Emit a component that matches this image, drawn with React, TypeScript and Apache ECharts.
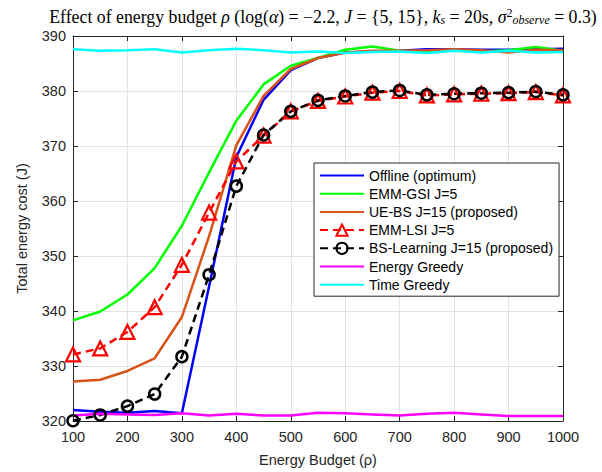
import React, { useEffect, useRef } from "react";
import * as echarts from "echarts";

const budgets = [100, 150, 200, 250, 300, 350, 400, 450, 500, 550, 600, 650, 700, 750, 800, 850, 900, 950, 1000];

const offline = [322.0, 321.7, 321.5, 321.8, 321.4, 344.5, 368.0, 378.4, 383.8, 386.0, 387.0, 387.2, 387.3, 387.6, 387.6, 387.5, 387.5, 387.6, 387.7];
const emmGsi = [338.3, 339.9, 343.0, 347.8, 355.5, 365.2, 374.6, 381.2, 384.6, 386.0, 387.5, 388.1, 387.3, 387.0, 387.5, 387.2, 387.4, 388.0, 387.3];
const ueBs = [327.2, 327.5, 329.1, 331.4, 338.9, 353.6, 370.1, 379.1, 384.0, 386.0, 387.0, 387.3, 387.3, 387.4, 387.6, 387.4, 387.0, 387.5, 387.4];
const emmLsi = [332.1, 333.2, 336.2, 340.7, 348.4, 357.9, 367.2, 371.9, 376.3, 378.2, 379.0, 379.7, 380.0, 379.2, 379.4, 379.5, 379.6, 379.8, 379.2];
const bsLearning = [320.05, 321.1, 322.7, 324.9, 331.7, 346.6, 362.7, 372.0, 376.3, 378.3, 379.1, 379.8, 380.1, 379.3, 379.5, 379.6, 379.7, 379.9, 379.3];
const energyGreedy = [321.0, 321.3, 321.2, 321.1, 321.4, 321.0, 321.3, 321.0, 321.0, 321.5, 321.4, 321.2, 321.0, 321.3, 321.5, 321.2, 320.9, 320.9, 320.9];
const timeGreedy = [387.6, 387.3, 387.4, 387.6, 387.0, 387.4, 387.7, 387.4, 387.0, 387.2, 386.9, 387.1, 387.2, 386.9, 387.3, 387.0, 387.3, 387.0, 387.1];

const seriesNames = [
  "Offline (optimum)",
  "EMM-GSI J=5",
  "UE-BS J=15 (proposed)",
  "EMM-LSI J=5",
  "BS-Learning J=15 (proposed)",
  "Energy Greedy",
  "Time Greedy",
];
const markerSeries = [seriesNames[3], seriesNames[4]];

const xTicks = { min: 100, max: 1000, interval: 100 };
const yTicks = { min: 320, max: 390, interval: 10 };

const AX = "#262626";
const SANS = "'Liberation Sans', Arial, Helvetica, sans-serif";
const SERIF = "'Liberation Serif', 'DejaVu Serif', serif";

function pairs(vals: number[]) {
  return budgets.map((b, i) => [b, vals[i]]);
}

export default function App() {
  const ref = useRef<HTMLDivElement>(null);
  useEffect(() => {
    if (!ref.current) return;
    const chart = echarts.init(ref.current, null, { renderer: "svg" });
    const solid = (name: string, color: string, data: number[]) => ({
      name,
      type: "line",
      data: pairs(data),
      symbol: "none",
      lineStyle: { color, width: 2.5 },
      itemStyle: { color },
    });
    const option: any = {
      animation: false,
      backgroundColor: "#ffffff",
      title: {
        text:
          "Effect of energy budget {i|ρ} (log({i|α}) = −2.2, {i|J} = {5, 15}, {i|k}{sub|s} = 20s, {i|σ}{sup|2}{sub|observe} = 0.3)",
        left: 318,
        textAlign: "center",
        top: 2,
        textStyle: {
          fontFamily: SERIF,
          fontSize: 17.8,
          fontWeight: "normal",
          color: "#000",
          rich: {
            i: { fontFamily: SERIF, fontSize: 17.8, fontStyle: "italic", color: "#000" },
            sub: { fontFamily: SERIF, fontSize: 12, fontStyle: "italic", color: "#000", verticalAlign: "bottom", padding: [7, 0, 0, 0] },
            sup: { fontFamily: SERIF, fontSize: 12, color: "#000", verticalAlign: "top", padding: [0, 0, 7, 0] },
          },
        },
      },
      grid: { left: 73, right: 39, top: 36, bottom: 49, containLabel: false },
      legend: {
        orient: "vertical",
        left: 314,
        top: 163,
        width: 238,
        padding: [5, 6, 4, 5],
        itemWidth: 44,
        itemHeight: 14,
        itemGap: 3.2,
        backgroundColor: "#ffffff",
        borderColor: AX,
        borderWidth: 1,
        borderRadius: 0,
        textStyle: { fontFamily: SANS, fontSize: 14, lineHeight: 15, color: "#000", padding: [0, 0, 0, 0] },
        data: seriesNames.map((n) =>
          markerSeries.includes(n) ? { name: n } : { name: n, itemStyle: { opacity: 0 } }
        ),
      },
      xAxis: [
        {
          type: "value",
          ...xTicks,
          name: "Energy Budget (ρ)",
          nameLocation: "middle",
          nameGap: 31,
          nameTextStyle: { fontFamily: SANS, fontSize: 14.5, color: AX },
          axisLine: { show: true, lineStyle: { color: AX, width: 1 } },
          axisTick: { show: true, inside: true, length: 5, lineStyle: { color: AX } },
          axisLabel: { fontFamily: SANS, fontSize: 14.5, color: AX, margin: 8, formatter: (v: number) => String(v) },
          splitLine: { show: true, lineStyle: { color: "#e3e3e3", width: 1 } },
        },
        {
          type: "value",
          position: "top",
          ...xTicks,
          axisLine: { show: true, lineStyle: { color: AX, width: 1 } },
          axisTick: { show: true, inside: true, length: 5, lineStyle: { color: AX } },
          axisLabel: { show: false },
          splitLine: { show: false },
        },
      ],
      yAxis: [
        {
          type: "value",
          ...yTicks,
          name: "Total energy cost (J)",
          nameLocation: "middle",
          nameGap: 44,
          nameTextStyle: { fontFamily: SANS, fontSize: 14.5, color: AX },
          axisLine: { show: true, lineStyle: { color: AX, width: 1 } },
          axisTick: { show: true, inside: true, length: 5, lineStyle: { color: AX } },
          axisLabel: { fontFamily: SANS, fontSize: 14.5, color: AX, margin: 7, formatter: (v: number) => String(v) },
          splitLine: { show: true, lineStyle: { color: "#e3e3e3", width: 1 } },
        },
        {
          type: "value",
          position: "right",
          ...yTicks,
          axisLine: { show: true, lineStyle: { color: AX, width: 1 } },
          axisTick: { show: true, inside: true, length: 5, lineStyle: { color: AX } },
          axisLabel: { show: false },
          splitLine: { show: false },
        },
      ],
      series: [
        solid(seriesNames[0], "#0000ff", offline),
        solid(seriesNames[1], "#00ff00", emmGsi),
        solid(seriesNames[2], "#d95319", ueBs),
        {
          name: seriesNames[3],
          type: "line",
          data: pairs(emmLsi),
          symbol: "triangle",
          symbolSize: 14,
          showAllSymbol: true,
          lineStyle: { color: "#ff0000", width: 2.5, type: [8, 5] },
          itemStyle: { color: "rgba(255,255,255,0)", borderColor: "#ff0000", borderWidth: 2.2 },
        },
        {
          name: seriesNames[4],
          type: "line",
          data: pairs(bsLearning),
          symbol: "circle",
          symbolSize: 11,
          showAllSymbol: true,
          lineStyle: { color: "#000000", width: 2.5, type: [8, 5] },
          itemStyle: { color: "rgba(255,255,255,0)", borderColor: "#000000", borderWidth: 2.5 },
        },
        solid(seriesNames[5], "#ff00ff", energyGreedy),
        solid(seriesNames[6], "#00ffff", timeGreedy),
      ],
    };
    chart.setOption(option);
    return () => chart.dispose();
  }, []);
  return <div ref={ref} style={{ width: 602, height: 472, position: "absolute", left: 0, top: 0 }} />;
}
